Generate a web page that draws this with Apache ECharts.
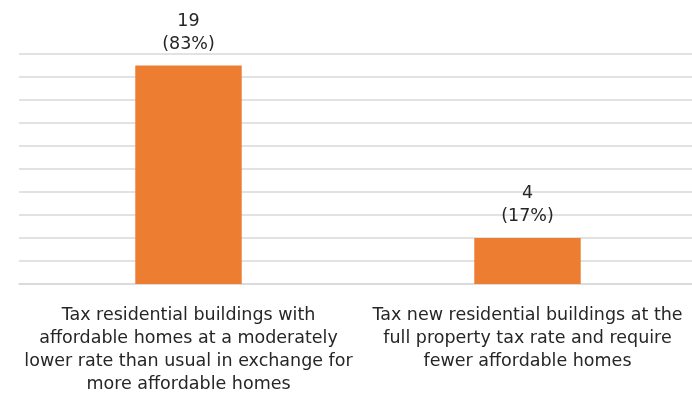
<!DOCTYPE html>
<html>
<head>
<meta charset="utf-8">
<script src="https://cdn.jsdelivr.net/npm/echarts@6/dist/echarts.min.js"></script>
<style>
  html, body { margin: 0; padding: 0; background: #fff; }
  #chart { width: 692px; height: 393px; }
</style>
</head>
<body>
<div id="chart"></div>
<script>
// Survey responses: count of respondents and their share for each option
const categories = [
  'Tax residential buildings with\naffordable homes at a moderately\nlower rate than usual in exchange for\nmore affordable homes',
  'Tax new residential buildings at the\nfull property tax rate and require\nfewer affordable homes'
];
const counts = [19, 4];
const shares = [83, 17];

const FONT = 'DejaVu Sans';
const TEXT = '#262626';

const chart = echarts.init(document.getElementById('chart'), null, { renderer: 'canvas' });
chart.setOption({
  animation: false,
  grid: { left: 19, right: -5, top: 54, bottom: 109, containLabel: false, outerBoundsMode: 'none' },
  xAxis: {
    type: 'category',
    data: categories,
    axisLine: { show: true, lineStyle: { color: '#d9d9d9', width: 1.5 } },
    axisTick: { show: false },
    axisLabel: {
      interval: 0,
      margin: 20,
      color: TEXT,
      fontFamily: FONT,
      fontSize: 17.5,
      lineHeight: 23,
      align: 'center'
    }
  },
  yAxis: {
    type: 'value',
    min: 0,
    max: 20,
    interval: 2,
    axisLabel: { show: false },
    axisLine: { show: false },
    axisTick: { show: false },
    splitLine: { lineStyle: { color: '#d9d9d9', width: 1.5 } }
  },
  series: [{
    type: 'bar',
    data: counts,
    barCategoryGap: '68.6%',
    itemStyle: { color: '#ED7D31' },
    label: {
      show: true,
      position: 'top',
      distance: 10,
      color: TEXT,
      fontFamily: FONT,
      fontSize: 17.5,
      lineHeight: 23,
      align: 'center',
      formatter: p => counts[p.dataIndex] + '\n(' + shares[p.dataIndex] + '%)'
    }
  }]
});
</script>
</body>
</html>
